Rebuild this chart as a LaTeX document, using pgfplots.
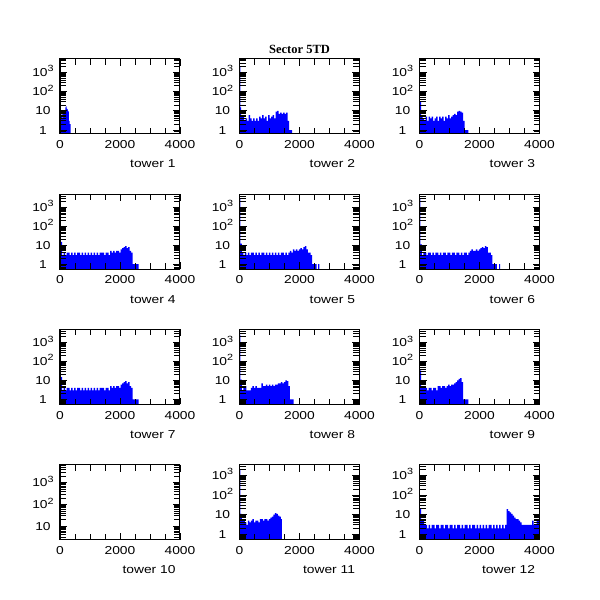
\documentclass[border=0pt]{standalone}
\usepackage{fontspec}
\setmainfont{Liberation Sans}[FakeStretch=1.2]
\newfontfamily\titlefont{Liberation Serif}
\usepackage{pgfplots}
\pgfplotsset{compat=1.18}

\newcommand{\dec}[1]{10\raisebox{4.5pt}{\fontsize{9}{9}\selectfont #1}}

\pgfplotsset{
  panel/.style={
    scale only axis,
    width=120pt, height=75pt,
    xmin=0, xmax=4000, log origin y=infty,
    ymin=0.53, ymax=4900,
    xtick={0,2000,4000}, xticklabels={0,2000,4000},
    minor xtick={500,1000,1500,2500,3000,3500},
    ytick={1,10,100,1000},
    yticklabels={1,10,\dec{2},\dec{3}},
    minor ytick={0.6,0.7,0.8,0.9,2,3,4,5,6,7,8,9,20,30,40,50,60,70,80,90,
                 200,300,400,500,600,700,800,900,2000,3000,4000,5000,6000},
    tick align=inside, major tick length=7pt, minor tick length=6pt,
    tick style={black, line width=0.9pt},
    axis line style={line width=1pt},
    axis on top,
    tick label style={font=\fontsize{11.5}{13}\selectfont},
    xticklabel style={yshift=-3pt},
    yticklabel style={anchor=base, xshift=-17pt, yshift=-4pt},
    x label style={at={(axis description cs:1,0)}, anchor=base east,
                   xshift=-1pt, yshift=-34pt, font=\fontsize{11.5}{13}\selectfont},
  },
  towerfill/.style={const plot, fill=blue, draw=none, mark=none},
}

\begin{document}
\begin{tikzpicture}
\useasboundingbox (0,0) rectangle (600pt,600pt);

% row 1
\begin{semilogyaxis}[panel, ymin=0.62, ymax=5000, xlabel={tower 1},
  at={(60pt,466pt)}, anchor=south west]
\addplot[towerfill] coordinates {(0,2500) (20,10) (40,6) (60,9) (80,4) (100,8) (120,10) (140,7)
  (160,11) (180,15) (200,17) (220,13) (240,12) (260,10) (280,9) (300,3) (320,2) (340,2) (355,2)} \closedcycle;
\end{semilogyaxis}

\begin{semilogyaxis}[panel, ymin=0.62, ymax=5000, xlabel={tower 2},
  title={Sector 5TD},
  title style={at={(axis description cs:0.5,1)}, anchor=base, yshift=-0.5pt,
               font=\titlefont\bfseries\fontsize{12.5}{14}\selectfont},
  at={(239.5pt,466pt)}, anchor=south west]
\addplot[towerfill] coordinates {(0,2000) (25,15) (50,6) (100,6) (150,3) (200,4) (250,3) (300,6)
  (350,4) (400,3) (450,4) (500,3) (550,4) (600,3) (650,5) (700,4) (750,6) (800,4) (850,5)
  (900,3) (950,6) (1000,4) (1050,5) (1100,6) (1150,4) (1200,9) (1250,10) (1300,7) (1350,8)
  (1400,7) (1450,8) (1500,7) (1550,8) (1600,3) (1650,1) (1700,1) (1750,1)} \closedcycle;
\end{semilogyaxis}

\begin{semilogyaxis}[panel, ymin=0.62, ymax=5000, xlabel={tower 3},
  at={(419.5pt,466pt)}, anchor=south west]
\addplot[towerfill] coordinates {(0,30) (50,5) (100,4) (150,3) (200,5) (250,3) (300,5) (350,4)
  (400,5) (450,3) (500,4) (550,5) (600,3) (650,5) (700,4) (750,5) (800,3) (850,5) (900,4)
  (950,6) (1000,4) (1050,5) (1100,6) (1150,7) (1200,6) (1250,9) (1300,10) (1350,9) (1400,8)
  (1450,3) (1500,1) (1550,1) (1600,1) (1630,1)} \closedcycle;
\end{semilogyaxis}

% row 2
\begin{semilogyaxis}[panel, xlabel={tower 4}, at={(60pt,330.7pt)}, anchor=south west]
\addplot[towerfill] coordinates {(0,3000) (25,15) (75,3) (125,4) (175,3) (225,4) (275,4) (325,3)
  (375,4) (425,3) (475,4) (525,3) (575,4) (625,4) (675,3) (725,4) (775,3) (825,4) (875,3)
  (925,4) (975,3) (1025,4) (1075,3) (1125,4) (1175,3) (1225,4) (1275,3) (1325,4) (1375,4)
  (1425,4) (1475,3) (1525,4) (1575,4) (1625,3) (1675,5) (1725,4) (1775,5) (1825,4) (1875,5)
  (1925,5) (1975,4) (2025,6) (2075,7) (2125,8) (2175,9) (2225,7) (2275,8) (2325,5) (2375,4)
  (2425,1) (2475,1) (2525,1) (2575,1) (2625,1)} \closedcycle;
\end{semilogyaxis}

\begin{semilogyaxis}[panel, xlabel={tower 5}, at={(239.5pt,330.7pt)}, anchor=south west]
\addplot[towerfill] coordinates {(0,3000) (25,12) (75,4) (125,3) (175,4) (225,3) (275,4) (325,3)
  (375,4) (425,4) (475,3) (525,4) (575,3) (625,4) (675,3) (725,4) (775,4) (825,3) (875,4)
  (925,3) (975,4) (1025,3) (1075,4) (1125,3) (1175,4) (1225,3) (1275,4) (1325,3) (1375,4)
  (1425,4) (1475,3) (1525,4) (1575,3) (1625,4) (1675,5) (1725,4) (1775,6) (1825,5) (1875,6)
  (1925,5) (1975,6) (2025,7) (2075,6) (2125,8) (2175,9) (2225,6) (2275,4) (2325,4) (2375,3)
  (2425,1) (2475,1) (2525,1) (2575,0.01) (2625,1) (2665,1)} \closedcycle;
\end{semilogyaxis}

\begin{semilogyaxis}[panel, xlabel={tower 6}, at={(419.5pt,330.7pt)}, anchor=south west]
\addplot[towerfill] coordinates {(0,3000) (25,11) (75,3) (125,4) (175,4) (225,3) (275,4) (325,4)
  (375,3) (425,4) (475,3) (525,4) (575,4) (625,3) (675,4) (725,3) (775,4) (825,4) (875,3)
  (925,4) (975,4) (1025,3) (1075,4) (1125,4) (1175,3) (1225,4) (1275,4) (1325,3) (1375,4)
  (1425,3) (1475,4) (1525,4) (1575,3) (1625,4) (1675,5) (1725,6) (1775,5) (1825,5) (1875,6)
  (1925,5) (1975,6) (2025,7) (2075,8) (2125,7) (2175,9) (2225,8) (2275,4) (2325,4) (2375,3)
  (2425,1) (2475,1) (2525,1) (2575,0.01) (2650,1) (2690,1)} \closedcycle;
\end{semilogyaxis}

% row 3
\begin{semilogyaxis}[panel, xlabel={tower 7}, at={(60pt,195.5pt)}, anchor=south west]
\addplot[towerfill] coordinates {(0,3000) (25,15) (75,3) (125,4) (175,3) (225,4) (275,4) (325,3)
  (375,4) (425,3) (475,4) (525,3) (575,4) (625,4) (675,3) (725,4) (775,3) (825,4) (875,3)
  (925,4) (975,3) (1025,4) (1075,3) (1125,4) (1175,3) (1225,4) (1275,3) (1325,4) (1375,4)
  (1425,4) (1475,3) (1525,4) (1575,4) (1625,3) (1675,5) (1725,4) (1775,5) (1825,4) (1875,5)
  (1925,5) (1975,4) (2025,6) (2075,7) (2125,8) (2175,9) (2225,7) (2275,8) (2325,5) (2375,4)
  (2425,1) (2475,1) (2525,1) (2575,1) (2625,1)} \closedcycle;
\end{semilogyaxis}

\begin{semilogyaxis}[panel, xlabel={tower 8}, at={(239.5pt,195.5pt)}, anchor=south west]
\addplot[towerfill] coordinates {(0,2600) (25,11) (75,3) (125,5) (175,5) (225,3) (275,3) (325,3)
  (375,4) (425,5) (475,4) (525,5) (575,4) (625,4) (675,4) (725,7) (775,5) (825,5) (875,6)
  (925,5) (975,6) (1025,5) (1075,6) (1125,5) (1175,6) (1225,6) (1275,7) (1325,7) (1375,8)
  (1425,7) (1475,8) (1525,10) (1575,9) (1625,5) (1675,1) (1725,1) (1800,1)} \closedcycle;
\end{semilogyaxis}

\begin{semilogyaxis}[panel, xlabel={tower 9}, at={(419.5pt,195.5pt)}, anchor=south west]
\addplot[towerfill] coordinates {(0,34) (50,5) (100,5) (150,4) (200,4) (250,3) (300,4) (350,4)
  (400,3) (450,4) (500,4) (550,3) (600,5) (650,5) (700,4) (750,5) (800,5) (850,4) (900,5)
  (950,6) (1000,5) (1050,6) (1100,6) (1150,7) (1200,8) (1250,10) (1300,12) (1350,13) (1400,8)
  (1450,1) (1500,1) (1550,1) (1630,1)} \closedcycle;
\end{semilogyaxis}

% row 4
\begin{semilogyaxis}[panel, ymin=2.4, ymax=6800, xlabel={tower 10},
  ytick={10,100,1000}, yticklabels={10,\dec{2},\dec{3}},
  at={(60pt,60.3pt)}, anchor=south west]
\addplot[towerfill] coordinates {(0,2200) (25,2200)} \closedcycle;
\end{semilogyaxis}

\begin{semilogyaxis}[panel, ymax=3500, xlabel={tower 11}, at={(239.5pt,60.3pt)}, anchor=south west]
\addplot[towerfill] coordinates {(0,1900) (25,11) (75,5) (125,5) (175,4) (225,3) (275,5) (325,4)
  (375,5) (425,6) (475,4) (525,5) (575,5) (625,4) (675,6) (725,6) (775,5) (825,6) (875,6)
  (925,5) (975,6) (1025,7) (1075,8) (1125,10) (1175,12) (1225,11) (1275,9) (1325,8) (1375,6)
  (1410,6)} \closedcycle;
\end{semilogyaxis}

\begin{semilogyaxis}[panel, ymax=3500, xlabel={tower 12}, at={(419.5pt,60.3pt)}, anchor=south west]
\addplot[towerfill] coordinates {(0,20) (50,5) (100,5) (150,3) (200,3) (250,2) (300,3) (350,2)
  (400,3) (450,3) (500,2) (550,3) (600,3) (650,2) (700,3) (750,3) (800,2) (850,3) (900,3)
  (950,2) (1000,3) (1050,3) (1100,2) (1150,3) (1200,2) (1250,3) (1300,3) (1350,2) (1400,3)
  (1450,2) (1500,3) (1550,3) (1600,2) (1650,3) (1700,2) (1750,3) (1800,3) (1850,2) (1900,3)
  (1950,2) (2000,3) (2050,2) (2100,3) (2150,2) (2200,3) (2250,2) (2300,3) (2350,3) (2400,2)
  (2450,3) (2500,2) (2550,3) (2600,2) (2650,3) (2700,2) (2750,3) (2800,2) (2850,3) (2900,19)
  (2950,15) (3000,13) (3050,11) (3100,9) (3150,7) (3200,6) (3250,6) (3300,5) (3350,4) (3400,3)
  (3450,3) (3500,3) (3550,3) (3600,3) (3650,3) (3700,3) (3750,5) (3800,3) (3850,3) (3900,5)
  (3950,5) (4000,5)} \closedcycle;
\end{semilogyaxis}
\end{tikzpicture}
\end{document}
